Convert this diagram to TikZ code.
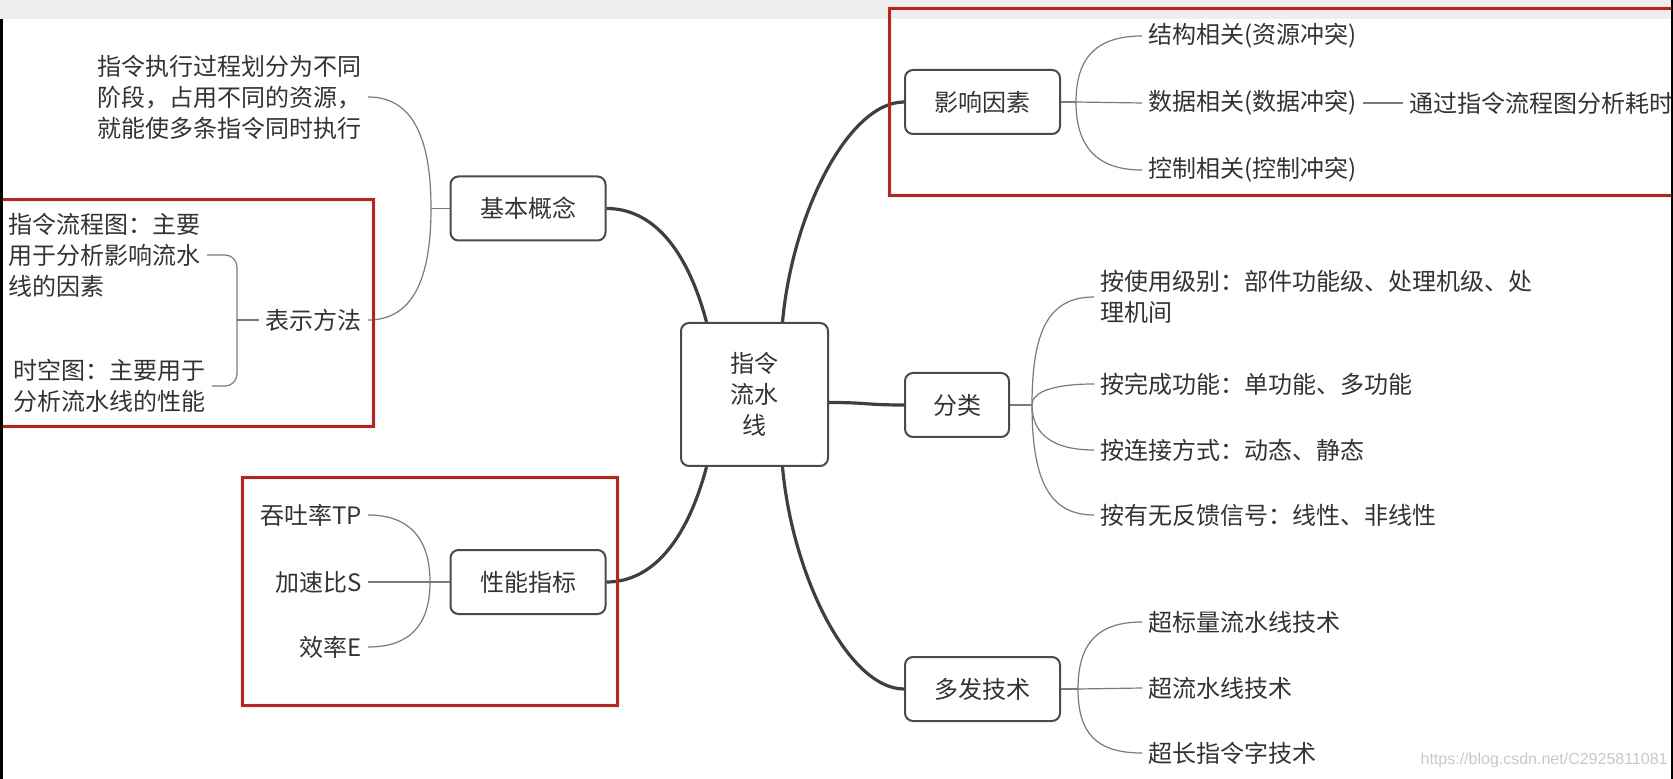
\documentclass[tikz,border=0pt]{standalone}
\usepackage{fontspec}
\setmainfont{Noto Sans CJK SC}
\newfontfamily\wmfont{Liberation Sans}
\usetikzlibrary{positioning, calc}
\definecolor{txtgray}{HTML}{333333}
\definecolor{boxgray}{HTML}{4A4A4A}
\definecolor{linkdark}{HTML}{3C3F45}
\definecolor{linkgray}{HTML}{7A7A7A}
\definecolor{markred}{HTML}{CC1C14}
\definecolor{bargray}{HTML}{EEEEEE}
\definecolor{wmgray}{HTML}{C8C8C8}

\begin{document}
\begin{tikzpicture}[
    x=0.5pt, y=-0.5pt,
    font=\fontsize{12}{15.5}\selectfont,
    every node/.style={text=txtgray},
    nd/.style={draw=boxgray, line width=1pt, rounded corners=4pt, align=center, minimum height=32pt, minimum width=77.5pt, inner sep=0pt},
    lf/.style={align=left, inner sep=3pt},
    ax/.style={draw=linkdark, line width=1.6pt},
    br/.style={draw=linkgray, line width=0.6pt},
    mk/.style={draw=markred, line width=1.5pt}
]
\useasboundingbox (0,0) rectangle (1673,779);
\fill[bargray] (0,0) rectangle (1673,19);

% centre and first level
\node[nd, minimum width=73.5pt, minimum height=71.5pt] (ct) at (754.5,394.5) {指令\\流水\\线};
\node[nd] (jb) at (528,208.5) {基本概念};
\node[nd] (yx) at (982.5,102) {影响因素};
\node[nd, minimum width=52pt] (fl) at (957,405) {分类};
\node[nd] (df) at (982.5,689) {多发技术};
\node[nd] (xn) at (528,582) {性能指标};

\draw[ax] ([xshift=-24pt]ct.north) .. controls +(-20,-75) and +(45,0) .. (jb.east);
\draw[ax] ([xshift=14pt]ct.north) .. controls +(10,-110) and +(-55,0) .. (yx.west);
\draw[ax] ([yshift=-4pt]ct.east) .. controls +(40,0) and +(-40,0) .. (fl.west);
\draw[ax] ([xshift=14pt]ct.south) .. controls +(10,110) and +(-55,0) .. (df.west);
\draw[ax] ([xshift=-24pt]ct.south) .. controls +(-20,75) and +(45,0) .. (xn.east);

% 基本概念
\node[lf, anchor=east] (jb1) at (368,97) {指令执行过程划分为不同\\阶段，占用不同的资源，\\就能使多条指令同时执行};
\node[lf, anchor=east] (bsff) at (368,320) {表示方法};
\node[lf, anchor=west] (lct) at (2,255) {指令流程图：主要\\用于分析影响流水\\线的因素};
\node[lf, anchor=west] (skt) at (7,386) {时空图：主要用于\\分析流水线的性能};
\coordinate (jbj) at (431,208.5);
\coordinate (bsj) at (237,320);
\draw[br] (jb.west) -- (jbj);
\draw[br] (jbj) .. controls +(0,-70) and +(45,0) .. (jb1.east);
\draw[br] (jbj) .. controls +(0,70) and +(45,0) .. (bsff.east);
\draw[br] (bsff.west) -- (bsj);
\draw[br, rounded corners=6pt] (lct.east) -| (bsj) |- (skt.east);

% 影响因素
\node[lf, anchor=west] (jg) at (1142,36) {结构相关(资源冲突)};
\node[lf, anchor=west] (sj) at (1142,103) {数据相关(数据冲突)};
\node[lf, anchor=west] (kz) at (1142,170) {控制相关(控制冲突)};
\node[lf, anchor=west] (sjnote) at (1403,103) {通过指令流程图分析耗时};
\coordinate (yxj) at (1076,102);
\draw[br] (yx.east) -- (yxj);
\draw[br] (yxj) .. controls +(0,-45) and +(-45,0) .. (jg.west);
\draw[br] (yxj) -- (sj.west);
\draw[br] (yxj) .. controls +(0,45) and +(-45,0) .. (kz.west);
\draw[br] (sj.east) -- (sjnote.west);

% 分类
\node[lf, anchor=west] (a1) at (1094,297) {按使用级别：部件功能级、处理机级、处\\理机间};
\node[lf, anchor=west] (a2) at (1094,384) {按完成功能：单功能、多功能};
\node[lf, anchor=west] (a3) at (1094,450) {按连接方式：动态、静态};
\node[lf, anchor=west] (a4) at (1094,515) {按有无反馈信号：线性、非线性};
\coordinate (flj) at (1032,405);
\draw[br] (fl.east) -- (flj);
\draw[br] (flj) .. controls +(0,-75) and +(-45,0) .. (a1.west);
\draw[br] (flj) .. controls +(0,-15) and +(-35,0) .. (a2.west);
\draw[br] (flj) .. controls +(0,30) and +(-40,0) .. (a3.west);
\draw[br] (flj) .. controls +(0,75) and +(-45,0) .. (a4.west);

% 多发技术
\node[lf, anchor=west] (b1) at (1142,622) {超标量流水线技术};
\node[lf, anchor=west] (b2) at (1142,688) {超流水线技术};
\node[lf, anchor=west] (b3) at (1142,753) {超长指令字技术};
\coordinate (dfj) at (1078,689);
\draw[br] (df.east) -- (dfj);
\draw[br] (dfj) .. controls +(0,-45) and +(-45,0) .. (b1.west);
\draw[br] (dfj) -- (b2.west);
\draw[br] (dfj) .. controls +(0,45) and +(-45,0) .. (b3.west);

% 性能指标
\node[lf, anchor=east] (c1) at (368,515) {吞吐率TP};
\node[lf, anchor=east] (c2) at (368,582) {加速比S};
\node[lf, anchor=east] (c3) at (368,647) {效率E};
\coordinate (xnj) at (430,582);
\draw[br] (xn.west) -- (xnj);
\draw[br] (xnj) .. controls +(0,-45) and +(40,0) .. (c1.east);
\draw[br] (xnj) -- (c2.east);
\draw[br] (xnj) .. controls +(0,45) and +(40,0) .. (c3.east);

% red marks
\draw[mk] (1673,9) -| (889,196) -- (1673,196);
\draw[mk] (0,200) -| (373,427) -- (0,427);
\draw[mk] (242,478) rectangle (617,705);

\node[anchor=east, inner sep=0pt, text=wmgray, font=\wmfont\fontsize{8}{8}\selectfont] (wm) at (1668,760) {https://blog.csdn.net/C2925811081};

% screen edges
\fill[black] (0,19) rectangle (2.5,779);
\fill[black] (1670.5,0) rectangle (1673,779);
\end{tikzpicture}
\end{document}
